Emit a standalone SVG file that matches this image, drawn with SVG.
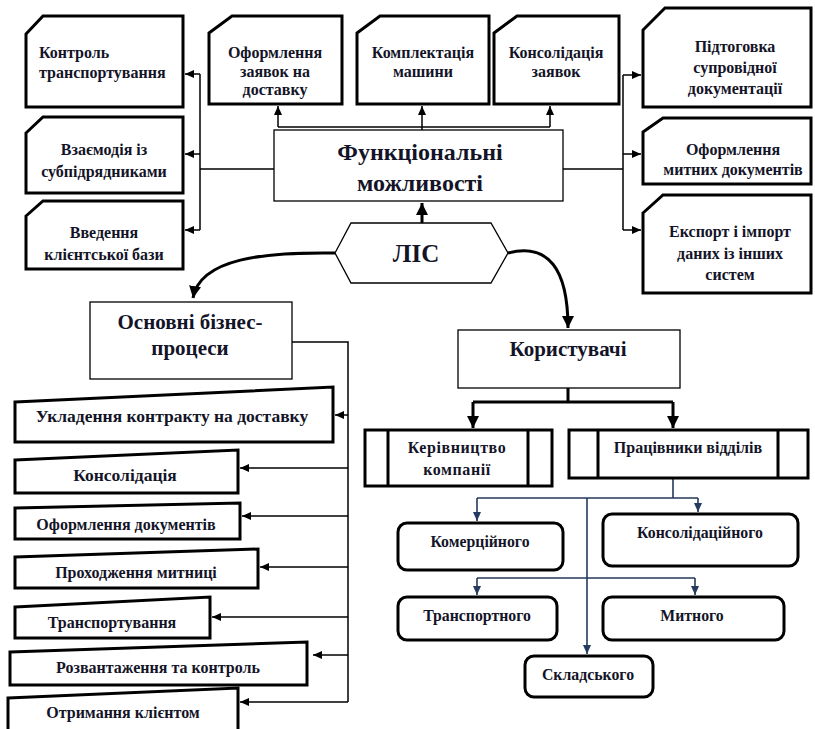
<svg xmlns="http://www.w3.org/2000/svg" width="815" height="729" viewBox="0 0 815 729">
<style>
.card{fill:#fff;stroke:#000;stroke-width:3;stroke-linejoin:miter}
.box{fill:#fff;stroke:#000;stroke-width:1.3}
.mi{fill:#fff;stroke:#000;stroke-width:3}
.rr{fill:#fff;stroke:#000;stroke-width:3}
.t{font-family:"Liberation Serif","Times New Roman",serif;font-weight:bold;fill:#141428;text-anchor:middle}
.s15{font-size:16px}
.s14{font-size:15.8px}
.s16{font-size:17.5px}
.big{font-size:24px}
.mid{font-size:21px}
.ln{fill:none;stroke:#000;stroke-width:1.5}
.thk{fill:none;stroke:#000;stroke-width:3}
.nv{fill:none;stroke:#243a5e;stroke-width:1.6}
</style>
<defs>
<marker id="a" markerUnits="userSpaceOnUse" markerWidth="10" markerHeight="10" refX="9" refY="5" orient="auto"><path d="M0,1 L9,5 L0,9 Z" fill="#000"/></marker>
<marker id="ab" markerUnits="userSpaceOnUse" markerWidth="14" markerHeight="14" refX="12" refY="7" orient="auto"><path d="M0,1 L12,7 L0,13 Z" fill="#000"/></marker>
<marker id="an" markerUnits="userSpaceOnUse" markerWidth="10" markerHeight="10" refX="9" refY="5" orient="auto"><path d="M0,1 L9,5 L0,9 Z" fill="#243a5e"/></marker>
</defs>
<rect width="815" height="729" fill="#fff"/>

<g id="connectors">
<path class="ln" d="M274,169 H200 M200,74 V230" />
<path class="ln" d="M200,74 H185" marker-end="url(#a)"/>
<path class="ln" d="M200,154 H185" marker-end="url(#a)"/>
<path class="ln" d="M200,230 H185" marker-end="url(#a)"/>
<path class="ln" d="M422,130 V127 M278,127 H550"/>
<path class="ln" d="M278,127 V106" marker-end="url(#a)"/>
<path class="ln" d="M422,127 V106" marker-end="url(#a)"/>
<path class="ln" d="M550,127 V106" marker-end="url(#a)"/>
<path class="ln" d="M563,169 H623 M623,75 V230"/>
<path class="ln" d="M623,75 H641" marker-end="url(#a)"/>
<path class="ln" d="M623,154 H641" marker-end="url(#a)"/>
<path class="ln" d="M623,230 H641" marker-end="url(#a)"/>
<path class="thk" d="M422,223 V203" marker-end="url(#ab)"/>
<path class="thk" d="M335,253 C265,252 200,258 193,298" marker-end="url(#ab)"/>
<path class="thk" d="M508,253 C548,243 568,268 568,328" marker-end="url(#ab)"/>
<path class="ln" d="M292,342 H348 V702"/>
<path class="ln" d="M348,415 H335" marker-end="url(#a)"/>
<path class="ln" d="M348,468 H240" marker-end="url(#a)"/>
<path class="ln" d="M348,516 H242" marker-end="url(#a)"/>
<path class="ln" d="M348,567 H260" marker-end="url(#a)"/>
<path class="ln" d="M348,617 H212" marker-end="url(#a)"/>
<path class="ln" d="M348,655 H313" marker-end="url(#a)"/>
<path class="ln" d="M348,702 H240" marker-end="url(#a)"/>
<path class="thk" d="M568,388 V402 M473,402 H673"/>
<path class="thk" d="M473,402 V428" marker-end="url(#ab)"/>
<path class="thk" d="M673,402 V428" marker-end="url(#ab)"/>
<path class="nv" d="M673,479 V498 M477,498 H698 M477,578 H695"/>
<path class="nv" d="M477,498 V521" marker-end="url(#an)"/>
<path class="nv" d="M698,498 V512" marker-end="url(#an)"/>
<path class="nv" d="M587,498 V654" marker-end="url(#an)"/>
<path class="nv" d="M477,578 V595" marker-end="url(#an)"/>
<path class="nv" d="M695,578 V595" marker-end="url(#an)"/>
</g>

<g id="n-kontrol"><path class="card" d="M26,34 L43,16 L183,16 L183,107 L26,107 Z"/>
<text class="t s15" x="39" y="58" style="text-anchor:start">Контроль</text><text class="t s15" x="39" y="78" style="text-anchor:start">транспортування</text></g>
<g id="n-vzaiemodiia"><path class="card" d="M26,133 L43,117 L183,117 L183,193 L26,193 Z"/>
<text class="t s15" x="104" y="155">Взаємодія із</text><text class="t s15" x="104" y="177">субпідрядниками</text></g>
<g id="n-vvedennia"><path class="card" d="M26,216 L43,201 L183,201 L183,269 L26,269 Z"/>
<text class="t s15" x="104" y="238">Введення</text><text class="t s15" x="104" y="260">клієнтської бази</text></g>

<g id="n-oformlennia-zaiavok"><path class="card" d="M209,33 L232,16 L342,16 L342,104 L209,104 Z"/>
<text class="t s15" x="275" y="58">Оформлення</text><text class="t s15" x="275" y="77">заявок на</text><text class="t s15" x="275" y="95">доставку</text></g>
<g id="n-komplektatsiia"><path class="card" d="M357,33 L380,16 L489,16 L489,104 L357,104 Z"/>
<text class="t s15" x="423" y="58">Комплектація</text><text class="t s15" x="423" y="77">машини</text></g>
<g id="n-konsolidatsiia-zaiavok"><path class="card" d="M494,33 L517,16 L619,16 L619,104 L494,104 Z"/>
<text class="t s15" x="556" y="58">Консолідація</text><text class="t s15" x="556" y="77">заявок</text></g>

<g id="n-pidtogovka"><path class="card" d="M643,30 L665,8 L811,8 L811,107 L643,107 Z"/>
<text class="t s15" x="735" y="52">Підтоговка</text><text class="t s15" x="735" y="73">супровідної</text><text class="t s15" x="735" y="94">документації</text></g>
<g id="n-mytni"><path class="card" d="M643,132 L663,118 L811,118 L811,184 L643,184 Z"/>
<text class="t s15" x="733" y="155">Оформлення</text><text class="t s15" x="733" y="175">митних документів</text></g>
<g id="n-eksport"><path class="card" d="M643,213 L663,195 L811,195 L811,293 L643,293 Z"/>
<text class="t s15" x="730" y="237">Експорт і імпорт</text><text class="t s15" x="730" y="259">даних із інших</text><text class="t s15" x="730" y="280">систем</text></g>

<g id="n-funktsionalni"><rect class="box" x="274" y="130" width="289" height="71"/>
<text class="t big" x="420" y="160">Функціональні</text><text class="t big" x="420" y="191">можливості</text></g>

<g id="n-lis"><path class="box" d="M335,253 L351,223 L491,223 L508,253 L491,283 L351,283 Z"/>
<text class="t" style="font-size:25px" x="416" y="262">ЛІС</text></g>

<g id="n-osnovni"><rect class="box" x="90" y="302" width="202" height="77"/>
<text class="t mid" x="190" y="329">Основні бізнес-</text><text class="t mid" x="190" y="355">процеси</text></g>

<g id="n-ukladennia"><path class="mi" d="M15,402 L333,387 L333,442 L15,442 Z"/>
<text class="t s16" x="172" y="422">Укладення контракту на доставку</text></g>
<g id="n-konsolidatsiia"><path class="mi" d="M15,460 L238,450 L238,493 L15,493 Z"/>
<text class="t s16" x="125" y="481">Консолідація</text></g>
<g id="n-oformlennia-dok"><path class="mi" d="M15,508 L240,503 L240,539 L15,539 Z"/>
<text class="t s15" x="126" y="530">Оформлення документів</text></g>
<g id="n-prokhodzhennia"><path class="mi" d="M15,557 L258,549 L258,588 L15,588 Z"/>
<text class="t s15" x="136" y="578">Проходження митниці</text></g>
<g id="n-transportuvannia"><path class="mi" d="M15,607 L210,597 L210,638 L15,638 Z"/>
<text class="t s15" x="112" y="628">Транспортування</text></g>
<g id="n-rozvantazhennia"><path class="mi" d="M10,652 L307,642 L307,685 L10,685 Z"/>
<text class="t s15" x="158" y="673">Розвантаження та контроль</text></g>
<g id="n-otrymannia"><path class="mi" d="M8,698 L238,688 L238,735 L8,735 Z"/>
<text class="t s15" x="123" y="718">Отримання клієнтом</text></g>

<g id="n-korystuvachi"><rect class="box" x="458" y="330" width="222" height="58"/>
<text class="t mid" x="568" y="356">Користувачі</text></g>

<g id="n-kerivnytstvo"><rect class="mi" x="365" y="430" width="187" height="56"/>
<path class="thk" d="M388,430 V486 M528,430 V486"/>
<text class="t s15" x="457" y="453" style="letter-spacing:0.6px">Керівництво</text><text class="t s15" x="457" y="475" style="letter-spacing:0.6px">компанії</text></g>
<g id="n-pratsivnyky"><rect class="mi" x="569" y="430" width="239" height="48"/>
<path class="thk" d="M598,430 V478 M778,430 V478"/>
<text class="t s15" x="688" y="453">Працівники відділів</text></g>

<g id="n-komertsiinoho"><rect class="rr" x="398" y="523" width="165" height="47" rx="9"/>
<text class="t s14" x="480" y="547">Комерційного</text></g>
<g id="n-konsolidatsiinoho"><rect class="rr" x="603" y="514" width="195" height="52" rx="9"/>
<text class="t s14" x="700" y="538">Консолідаційного</text></g>
<g id="n-transportnoho"><rect class="rr" x="398" y="597" width="159" height="43" rx="9"/>
<text class="t s14" x="477" y="621">Транспортного</text></g>
<g id="n-mytnoho"><rect class="rr" x="603" y="597" width="181" height="43" rx="9"/>
<text class="t s14" x="692" y="621">Митного</text></g>
<g id="n-skladskoho"><rect class="rr" x="525" y="656" width="128" height="41" rx="9"/>
<text class="t s14" x="588" y="680">Складського</text></g>
</svg>
